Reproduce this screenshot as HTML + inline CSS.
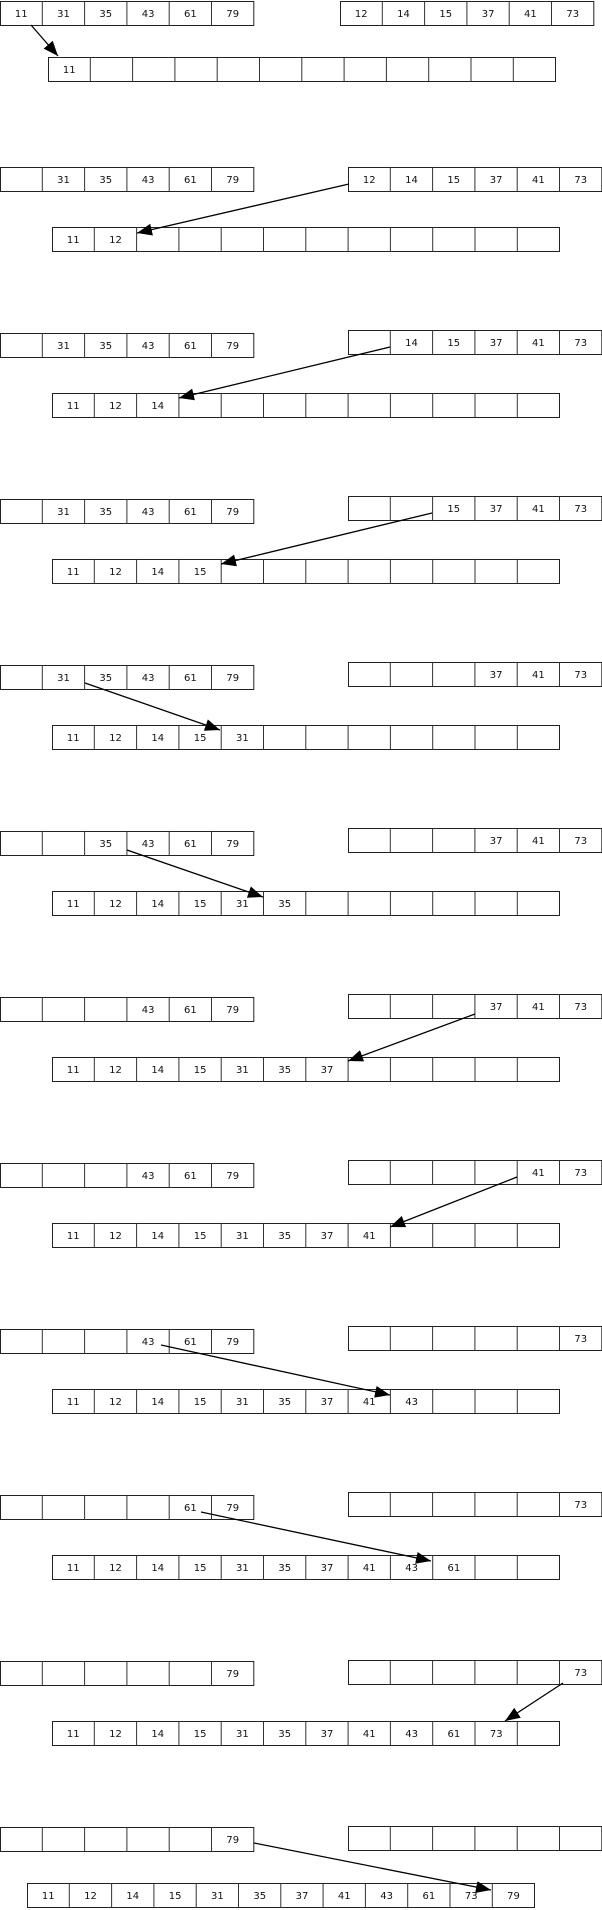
<!DOCTYPE html>
<html><head><meta charset="utf-8"><style>
html,body{margin:0;padding:0;background:#fff;}
svg{display:block;}
text{font-family:"DejaVu Sans","Liberation Sans",sans-serif;font-size:10px;fill:#111;text-anchor:middle;}
</style></head><body>
<svg width="602" height="1910" viewBox="0 0 602 1910" xmlns="http://www.w3.org/2000/svg">
<defs>
<g id="a6"><rect x="0.5" y="0.5" width="253.3" height="24" fill="#fff" stroke="#222" stroke-width="1"/><path d="M42.3 0.5V24.5M84.6 0.5V24.5M126.9 0.5V24.5M169.2 0.5V24.5M211.5 0.5V24.5" stroke="#333" stroke-width="1"/></g>
<g id="a12"><rect x="0.5" y="0.5" width="507" height="24" fill="#fff" stroke="#222" stroke-width="1"/><path d="M42.3 0.5V24.5M84.6 0.5V24.5M126.9 0.5V24.5M169.2 0.5V24.5M211.5 0.5V24.5M253.8 0.5V24.5M296.1 0.5V24.5M338.4 0.5V24.5M380.7 0.5V24.5M423 0.5V24.5M465.3 0.5V24.5" stroke="#333" stroke-width="1"/></g>
<marker id="ah" markerUnits="userSpaceOnUse" markerWidth="16" markerHeight="12" refX="15" refY="6" orient="auto"><path d="M0 0L15 6L0 12z" fill="#000"/></marker>
</defs>

<!-- row 0 -->
<g transform="translate(0,1)"><use href="#a6"/><text x="21.2" y="16">11</text><text x="63.5" y="16">31</text><text x="105.8" y="16">35</text><text x="148.1" y="16">43</text><text x="190.4" y="16">61</text><text x="232.7" y="16">79</text></g>
<g transform="translate(340,1)"><use href="#a6"/><text x="21.2" y="16">12</text><text x="63.5" y="16">14</text><text x="105.8" y="16">15</text><text x="148.1" y="16">37</text><text x="190.4" y="16">41</text><text x="232.7" y="16">73</text></g>
<g transform="translate(48,57)"><use href="#a12"/><text x="21.2" y="16">11</text></g>

<!-- row 1 -->
<g transform="translate(0,167)"><use href="#a6"/><text x="63.5" y="16">31</text><text x="105.8" y="16">35</text><text x="148.1" y="16">43</text><text x="190.4" y="16">61</text><text x="232.7" y="16">79</text></g>
<g transform="translate(348,167)"><use href="#a6"/><text x="21.2" y="16">12</text><text x="63.5" y="16">14</text><text x="105.8" y="16">15</text><text x="148.1" y="16">37</text><text x="190.4" y="16">41</text><text x="232.7" y="16">73</text></g>
<g transform="translate(52,227)"><use href="#a12"/><text x="21.2" y="16">11</text><text x="63.5" y="16">12</text></g>

<!-- row 2 -->
<g transform="translate(0,333)"><use href="#a6"/><text x="63.5" y="16">31</text><text x="105.8" y="16">35</text><text x="148.1" y="16">43</text><text x="190.4" y="16">61</text><text x="232.7" y="16">79</text></g>
<g transform="translate(348,330)"><use href="#a6"/><text x="63.5" y="16">14</text><text x="105.8" y="16">15</text><text x="148.1" y="16">37</text><text x="190.4" y="16">41</text><text x="232.7" y="16">73</text></g>
<g transform="translate(52,393)"><use href="#a12"/><text x="21.2" y="16">11</text><text x="63.5" y="16">12</text><text x="105.8" y="16">14</text></g>

<!-- row 3 -->
<g transform="translate(0,499)"><use href="#a6"/><text x="63.5" y="16">31</text><text x="105.8" y="16">35</text><text x="148.1" y="16">43</text><text x="190.4" y="16">61</text><text x="232.7" y="16">79</text></g>
<g transform="translate(348,496)"><use href="#a6"/><text x="105.8" y="16">15</text><text x="148.1" y="16">37</text><text x="190.4" y="16">41</text><text x="232.7" y="16">73</text></g>
<g transform="translate(52,559)"><use href="#a12"/><text x="21.2" y="16">11</text><text x="63.5" y="16">12</text><text x="105.8" y="16">14</text><text x="148.1" y="16">15</text></g>

<!-- row 4 -->
<g transform="translate(0,665)"><use href="#a6"/><text x="63.5" y="16">31</text><text x="105.8" y="16">35</text><text x="148.1" y="16">43</text><text x="190.4" y="16">61</text><text x="232.7" y="16">79</text></g>
<g transform="translate(348,662)"><use href="#a6"/><text x="148.1" y="16">37</text><text x="190.4" y="16">41</text><text x="232.7" y="16">73</text></g>
<g transform="translate(52,725)"><use href="#a12"/><text x="21.2" y="16">11</text><text x="63.5" y="16">12</text><text x="105.8" y="16">14</text><text x="148.1" y="16">15</text><text x="190.4" y="16">31</text></g>

<!-- row 5 -->
<g transform="translate(0,831)"><use href="#a6"/><text x="105.8" y="16">35</text><text x="148.1" y="16">43</text><text x="190.4" y="16">61</text><text x="232.7" y="16">79</text></g>
<g transform="translate(348,828)"><use href="#a6"/><text x="148.1" y="16">37</text><text x="190.4" y="16">41</text><text x="232.7" y="16">73</text></g>
<g transform="translate(52,891)"><use href="#a12"/><text x="21.2" y="16">11</text><text x="63.5" y="16">12</text><text x="105.8" y="16">14</text><text x="148.1" y="16">15</text><text x="190.4" y="16">31</text><text x="232.7" y="16">35</text></g>

<!-- row 6 -->
<g transform="translate(0,997)"><use href="#a6"/><text x="148.1" y="16">43</text><text x="190.4" y="16">61</text><text x="232.7" y="16">79</text></g>
<g transform="translate(348,994)"><use href="#a6"/><text x="148.1" y="16">37</text><text x="190.4" y="16">41</text><text x="232.7" y="16">73</text></g>
<g transform="translate(52,1057)"><use href="#a12"/><text x="21.2" y="16">11</text><text x="63.5" y="16">12</text><text x="105.8" y="16">14</text><text x="148.1" y="16">15</text><text x="190.4" y="16">31</text><text x="232.7" y="16">35</text><text x="275" y="16">37</text></g>

<!-- row 7 -->
<g transform="translate(0,1163)"><use href="#a6"/><text x="148.1" y="16">43</text><text x="190.4" y="16">61</text><text x="232.7" y="16">79</text></g>
<g transform="translate(348,1160)"><use href="#a6"/><text x="190.4" y="16">41</text><text x="232.7" y="16">73</text></g>
<g transform="translate(52,1223)"><use href="#a12"/><text x="21.2" y="16">11</text><text x="63.5" y="16">12</text><text x="105.8" y="16">14</text><text x="148.1" y="16">15</text><text x="190.4" y="16">31</text><text x="232.7" y="16">35</text><text x="275" y="16">37</text><text x="317.3" y="16">41</text></g>

<!-- row 8 -->
<g transform="translate(0,1329)"><use href="#a6"/><text x="148.1" y="16">43</text><text x="190.4" y="16">61</text><text x="232.7" y="16">79</text></g>
<g transform="translate(348,1326)"><use href="#a6"/><text x="232.7" y="16">73</text></g>
<g transform="translate(52,1389)"><use href="#a12"/><text x="21.2" y="16">11</text><text x="63.5" y="16">12</text><text x="105.8" y="16">14</text><text x="148.1" y="16">15</text><text x="190.4" y="16">31</text><text x="232.7" y="16">35</text><text x="275" y="16">37</text><text x="317.3" y="16">41</text><text x="359.6" y="16">43</text></g>

<!-- row 9 -->
<g transform="translate(0,1495)"><use href="#a6"/><text x="190.4" y="16">61</text><text x="232.7" y="16">79</text></g>
<g transform="translate(348,1492)"><use href="#a6"/><text x="232.7" y="16">73</text></g>
<g transform="translate(52,1555)"><use href="#a12"/><text x="21.2" y="16">11</text><text x="63.5" y="16">12</text><text x="105.8" y="16">14</text><text x="148.1" y="16">15</text><text x="190.4" y="16">31</text><text x="232.7" y="16">35</text><text x="275" y="16">37</text><text x="317.3" y="16">41</text><text x="359.6" y="16">43</text><text x="401.9" y="16">61</text></g>

<!-- row 10 -->
<g transform="translate(0,1661)"><use href="#a6"/><text x="232.7" y="16">79</text></g>
<g transform="translate(348,1660)"><use href="#a6"/><text x="232.7" y="16">73</text></g>
<g transform="translate(52,1721)"><use href="#a12"/><text x="21.2" y="16">11</text><text x="63.5" y="16">12</text><text x="105.8" y="16">14</text><text x="148.1" y="16">15</text><text x="190.4" y="16">31</text><text x="232.7" y="16">35</text><text x="275" y="16">37</text><text x="317.3" y="16">41</text><text x="359.6" y="16">43</text><text x="401.9" y="16">61</text><text x="444.2" y="16">73</text></g>

<!-- row 11 -->
<g transform="translate(0,1827)"><use href="#a6"/><text x="232.7" y="16">79</text></g>
<g transform="translate(348,1826)"><use href="#a6"/></g>
<g transform="translate(27,1883)"><use href="#a12"/><text x="21.2" y="16">11</text><text x="63.5" y="16">12</text><text x="105.8" y="16">14</text><text x="148.1" y="16">15</text><text x="190.4" y="16">31</text><text x="232.7" y="16">35</text><text x="275" y="16">37</text><text x="317.3" y="16">41</text><text x="359.6" y="16">43</text><text x="401.9" y="16">61</text><text x="444.2" y="16">73</text><text x="486.5" y="16">79</text></g>

<!-- arrows -->
<g stroke="#000" stroke-width="1.3" fill="none" marker-end="url(#ah)">
<line x1="31" y1="25" x2="58" y2="56"/>
<line x1="349" y1="184" x2="137" y2="233"/>
<line x1="390" y1="347" x2="179" y2="398"/>
<line x1="432" y1="513" x2="221" y2="564"/>
<line x1="85" y1="683" x2="220" y2="730"/>
<line x1="127" y1="850" x2="263" y2="897"/>
<line x1="475" y1="1014" x2="348" y2="1061"/>
<line x1="517" y1="1177" x2="390" y2="1227"/>
<line x1="161" y1="1345" x2="390" y2="1395"/>
<line x1="201" y1="1512" x2="431" y2="1561"/>
<line x1="563" y1="1683" x2="505" y2="1721"/>
<line x1="254" y1="1843" x2="491" y2="1890"/>
</g>
</svg>
</body></html>
